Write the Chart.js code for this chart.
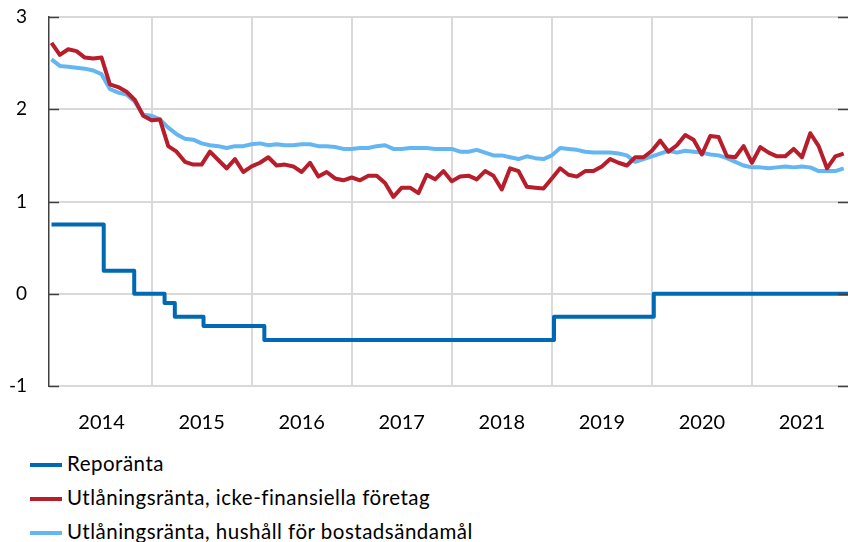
<!DOCTYPE html>
<html>
<head>
<meta charset="utf-8">
<script src="https://cdn.jsdelivr.net/npm/chart.js@4"></script>
<style>
  html, body { margin: 0; padding: 0; background: #fff; }
  #wrap { position: relative; width: 848px; height: 542px; overflow: hidden; }
  #box { position: absolute; left: 0; top: 0; width: 848px; height: 445px; }
  #legend { position: absolute; left: 30px; top: 446px; font-family: Lato, sans-serif; font-size: 20.5px; letter-spacing: 0.5px; color: #000; }
  #legend .item { height: 34px; line-height: 34px; white-space: nowrap; }
  #legend .swatch { display: inline-block; width: 32px; height: 4px; vertical-align: middle; margin-right: 5px; position: relative; top: -1px; }
</style>
</head>
<body>
<div id="wrap">
  <div id="box"><canvas id="chart"></canvas></div>
  <div id="legend"></div>
</div>
<script>
// monthly series, Jan 2014 .. Dec 2021
const startYear = 2014;

const companyRate = [
  2.72, 2.59, 2.65, 2.63, 2.56, 2.55, 2.56, 2.27, 2.24, 2.19, 2.10, 1.93,
  1.88, 1.89, 1.60, 1.54, 1.43, 1.40, 1.40, 1.54, 1.45, 1.36, 1.46, 1.32,
  1.38, 1.42, 1.48, 1.39, 1.40, 1.38, 1.32, 1.42, 1.27, 1.32, 1.25, 1.23,
  1.26, 1.23, 1.28, 1.28, 1.20, 1.05, 1.15, 1.15, 1.09, 1.29, 1.24, 1.33,
  1.22, 1.27, 1.28, 1.24, 1.33, 1.28, 1.13, 1.36, 1.33, 1.16, 1.15, 1.14,
  1.25, 1.36, 1.29, 1.27, 1.33, 1.33, 1.38, 1.46, 1.42, 1.39, 1.48, 1.48,
  1.55, 1.66, 1.54, 1.61, 1.72, 1.67, 1.51, 1.71, 1.70, 1.49, 1.48, 1.60,
  1.42, 1.59, 1.53, 1.49, 1.49, 1.57, 1.48, 1.74, 1.60, 1.36, 1.49, 1.52
];

const householdRate = [
  2.54, 2.47, 2.46, 2.45, 2.44, 2.42, 2.38, 2.22, 2.18, 2.16, 2.08, 1.94,
  1.93, 1.89, 1.80, 1.73, 1.68, 1.67, 1.63, 1.61, 1.60, 1.58, 1.60, 1.60,
  1.62, 1.63, 1.61, 1.62, 1.61, 1.61, 1.62, 1.62, 1.60, 1.60, 1.59, 1.57,
  1.57, 1.58, 1.58, 1.60, 1.61, 1.57, 1.57, 1.58, 1.58, 1.58, 1.57, 1.57,
  1.57, 1.54, 1.54, 1.56, 1.53, 1.50, 1.50, 1.48, 1.46, 1.49, 1.47, 1.46,
  1.50, 1.58, 1.57, 1.56, 1.54, 1.53, 1.53, 1.53, 1.52, 1.50, 1.43, 1.46,
  1.49, 1.52, 1.55, 1.53, 1.55, 1.54, 1.53, 1.51, 1.50, 1.47, 1.43, 1.39,
  1.37, 1.37, 1.36, 1.37, 1.38, 1.37, 1.38, 1.37, 1.33, 1.33, 1.33, 1.36
];

// repo rate decisions (date it took effect, new rate)
const repoDates = ['2014-01-01', '2014-07-09', '2014-10-29', '2015-02-18', '2015-03-25',
                   '2015-07-08', '2016-02-17', '2019-01-09', '2020-01-08', '2021-12-31'];
const repoRates = [0.75, 0.25, 0, -0.10, -0.25, -0.35, -0.50, -0.25, 0, 0];

const yearLabels = [2014, 2015, 2016, 2017, 2018, 2019, 2020, 2021];
const yTicks = [-1, 0, 1, 2, 3];

const seriesNames = ['Reporänta', 'Utlåningsränta, icke-finansiella företag', 'Utlåningsränta, hushåll för bostadsändamål'];
const seriesColors = ['#0069B4', '#B71D2B', '#63B6F1'];

function decYear(s) {
  const [y, m, d] = s.split('-').map(Number);
  return y + (m - 1) / 12 + (d - 1) / 365;
}
const monthX = i => startYear + i / 12;

const font = { family: 'Lato, sans-serif', size: 19 };

// small inward tick marks on both y edges
const innerTicks = {
  id: 'innerTicks',
  afterDraw(chart) {
    const { ctx, chartArea } = chart;
    const y = chart.scales.y;
    ctx.save();
    ctx.strokeStyle = '#404040';
    ctx.lineWidth = 1.5;
    y.ticks.forEach(t => {
      const py = Math.round(y.getPixelForValue(t.value)) + 0.5;
      ctx.beginPath();
      ctx.moveTo(chartArea.left, py);
      ctx.lineTo(chartArea.left + 10, py);
      ctx.moveTo(chartArea.right, py);
      ctx.lineTo(chartArea.right - 10, py);
      ctx.stroke();
    });
    ctx.restore();
  }
};

const chart = new Chart(document.getElementById('chart'), {
  type: 'line',
  data: {
    datasets: [
      {
        label: seriesNames[0],
        data: repoDates.map((d, i) => ({ x: decYear(d), y: repoRates[i] })),
        borderColor: seriesColors[0],
        stepped: true,
        borderWidth: 4
      },
      {
        label: seriesNames[1],
        data: companyRate.map((v, i) => ({ x: monthX(i), y: v })),
        borderColor: seriesColors[1],
        borderWidth: 4
      },
      {
        label: seriesNames[2],
        data: householdRate.map((v, i) => ({ x: monthX(i), y: v })),
        borderColor: seriesColors[2],
        borderWidth: 4
      }
    ]
  },
  options: {
    responsive: true,
    maintainAspectRatio: false,
    animation: false,
    layout: { padding: { top: 17, right: 0, left: 0, bottom: 0 } },
    elements: {
      point: { radius: 0 },
      line: { tension: 0, borderJoinStyle: 'round', borderCapStyle: 'butt' }
    },
    plugins: {
      legend: { display: false },
      tooltip: { enabled: false }
    },
    scales: {
      x: {
        type: 'linear',
        min: 2013.975,
        max: 2021.96,
        afterBuildTicks(scale) {
          const t = [];
          yearLabels.forEach(y => {
            if (y > yearLabels[0]) t.push({ value: y });
            t.push({ value: y + 0.5 });
          });
          scale.ticks = t;
        },
        afterFit(scale) {
          scale.height = 59;
          scale.paddingLeft = 0;
          scale.paddingRight = 0;
        },
        border: { display: false },
        grid: {
          drawTicks: false,
          lineWidth: 2,
          color: ctx => (ctx.tick && ctx.tick.value % 1 === 0) ? '#d9d9d9' : 'rgba(0,0,0,0)'
        },
        ticks: {
          autoSkip: false,
          maxRotation: 0,
          padding: 25,
          color: '#000',
          font: { family: 'Lato, sans-serif', size: 20 },
          callback: v => (v % 1 !== 0 ? String(Math.floor(v)) : '')
        }
      },
      y: {
        min: -1,
        max: 3,
        afterBuildTicks(scale) { scale.ticks = yTicks.map(v => ({ value: v })); },
        afterFit(scale) {
          scale.width = 49;
          scale.paddingTop = 0;
          scale.paddingBottom = 0;
        },
        border: { display: true, color: '#404040', width: 1.5 },
        grid: { drawTicks: false, color: '#d9d9d9', lineWidth: 2 },
        ticks: { padding: 22, color: '#000', font }
      }
    }
  },
  plugins: [innerTicks]
});

// legend below the chart, one series per row
const legend = document.getElementById('legend');
chart.data.datasets.forEach(ds => {
  const row = document.createElement('div');
  row.className = 'item';
  const sw = document.createElement('span');
  sw.className = 'swatch';
  sw.style.background = ds.borderColor;
  row.appendChild(sw);
  row.appendChild(document.createTextNode(ds.label));
  legend.appendChild(row);
});
</script>
</body>
</html>
